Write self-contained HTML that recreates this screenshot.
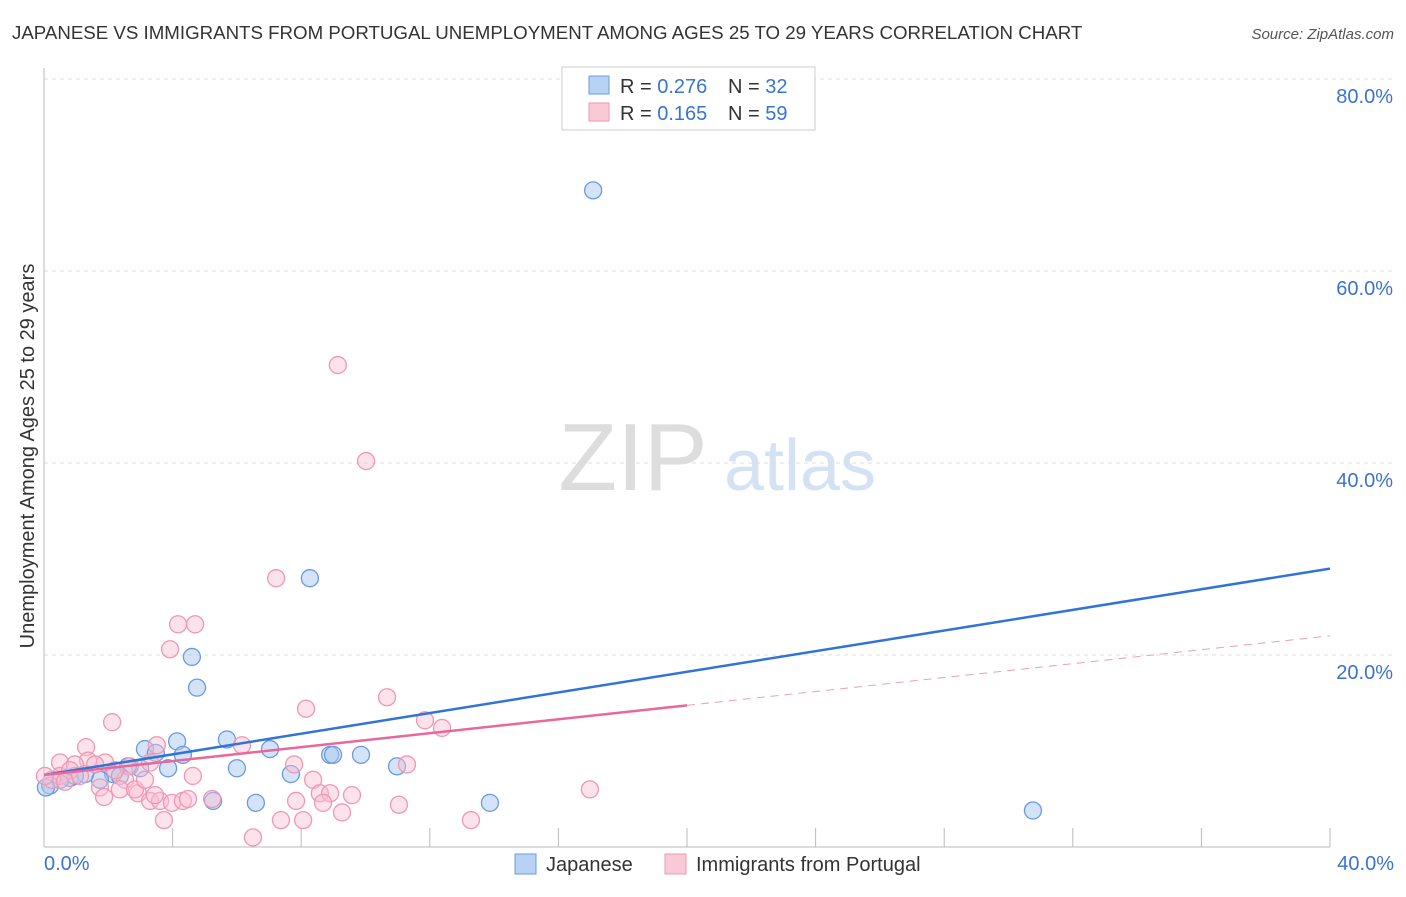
<!DOCTYPE html>
<html><head><meta charset="utf-8"><style>
body{margin:0;background:#fff;font-family:"Liberation Sans",sans-serif;}
svg text{font-family:"Liberation Sans",sans-serif;}
</style></head><body>
<svg id="chart" width="1406" height="892" xmlns="http://www.w3.org/2000/svg">
<text x="12" y="39" font-size="18.7" fill="#333">JAPANESE VS IMMIGRANTS FROM PORTUGAL UNEMPLOYMENT AMONG AGES 25 TO 29 YEARS CORRELATION CHART</text>
<text x="1394" y="39" font-size="15" fill="#555" text-anchor="end" font-style="italic">Source: ZipAtlas.com</text>
<g>
<text x="633" y="490" font-size="96" fill="#ddd" text-anchor="middle" font-family="Liberation Serif, serif">ZIP</text>
<text x="800" y="490" font-size="72" fill="#d4e2f4" text-anchor="middle">atlas</text>
</g>
<g id="grid"></g>
<g id="axes"></g>
<text transform="translate(34,456) rotate(-90)" font-size="20" fill="#333" text-anchor="middle">Unemployment Among Ages 25 to 29 years</text>
<g id="pts"></g>
<g id="lines"></g>
<g>
<rect x="562" y="67" width="253" height="63" fill="#fff" stroke="#ccc"/>
<rect x="589" y="76" width="20" height="18" fill="#b8d2f4" stroke="#6a9be0"/>
<rect x="589" y="103" width="20" height="18" fill="#f9c9d8" stroke="#ef98b3"/>
<text x="620" y="93" font-size="20" fill="#333">R = <tspan fill="#3a74d0">0.276</tspan></text>
<text x="728" y="93" font-size="20" fill="#333">N = <tspan fill="#3a74d0">32</tspan></text>
<text x="620" y="120" font-size="20" fill="#333">R = <tspan fill="#3a74d0">0.165</tspan></text>
<text x="728" y="120" font-size="20" fill="#333">N = <tspan fill="#3a74d0">59</tspan></text>
</g>
<g>
<rect x="515" y="854" width="21" height="20" fill="#b8d2f4" stroke="#6a9be0"/>
<text x="546" y="871" font-size="20" fill="#333">Japanese</text>
<rect x="665" y="854" width="21" height="20" fill="#f9c9d8" stroke="#ef98b3"/>
<text x="696" y="871" font-size="20" fill="#333">Immigrants from Portugal</text>
</g>
</svg>
<script>
const yTicks=[20,40,60,80];
const yTickLabels=["20.0%","40.0%","60.0%","80.0%"];
const xTickLabels=["0.0%","40.0%"];
const japX=[17.08,8.27,4.6,4.76,5.69,4.14,3.14,4.32,3.48,7.03,8.9,8.99,9.86,2.99,3.86,6.0,7.68,10.98,2.61,2.15,2.36,1.74,0.81,0.5,0.19,0.06,5.26,6.59,13.87,30.76,1.28,0.96];
const japY=[68.4,28.0,19.8,16.6,11.2,11.0,10.2,9.6,9.8,10.2,9.6,9.6,9.6,8.2,8.2,8.2,7.6,8.4,8.4,7.6,7.4,7.0,7.2,7.0,6.4,6.2,4.8,4.6,4.6,3.8,7.6,7.4];
const porX=[9.14,10.02,7.22,4.17,4.7,3.92,10.67,8.15,2.12,11.85,12.38,1.31,3.51,6.16,1.37,0.5,0.96,1.9,2.67,3.3,7.78,11.29,8.37,4.63,2.52,1.74,2.92,3.3,3.61,3.98,4.32,4.48,1.87,3.45,8.58,8.9,9.58,7.84,8.68,5.23,11.04,9.27,3.73,7.37,8.06,13.28,16.98,6.5,0.5,0.81,1.12,1.59,2.21,0.25,0.03,2.36,2.83,3.14,0.65];
const porY=[50.2,40.2,28.0,23.2,23.2,20.6,15.6,14.4,13.0,13.2,12.4,10.4,10.6,10.6,9.0,8.8,8.6,8.8,8.4,8.8,8.6,8.6,7.0,7.4,7.0,6.2,5.6,4.8,4.8,4.6,4.8,5.0,5.2,5.4,5.6,5.6,5.4,4.8,4.6,5.0,4.4,3.6,2.8,2.8,2.8,2.8,6.0,1.0,7.4,8.0,7.4,8.6,8.0,7.0,7.4,6.0,6.0,7.0,6.8];
const japLine=[7.5,29.0];
const porLine=[7.5,22.0];
const X=v=>44+v*32.15, Y=v=>847-v*9.6;
const NS="http://www.w3.org/2000/svg";
function mk(t,a,p){const e=document.createElementNS(NS,t);for(const k in a)e.setAttribute(k,a[k]);p.appendChild(e);return e;}
const grid=document.getElementById('grid'),axes=document.getElementById('axes'),pts=document.getElementById('pts'),lines=document.getElementById('lines');
yTicks.forEach((v,i)=>{
 const l=mk('line',{x1:44,x2:1394,y1:Y(v),y2:Y(v),stroke:'#ddd','stroke-dasharray':'4,4'},grid);
 
 
 const t=mk('text',{x:1393,y:Y(v)+24,'font-size':20,fill:'#3a74d0','text-anchor':'end'},axes);
 t.textContent=yTickLabels[i];
 
 
});
mk('line',{x1:44,x2:44,y1:68,y2:847,stroke:'#bbb'},axes);
mk('line',{x1:44,x2:1330,y1:847,y2:847,stroke:'#bbb'},axes);
for(let i=1;i<=10;i++){mk('line',{x1:X(i*4),x2:X(i*4),y1:828,y2:847,stroke:'#bbb'},axes);}
[[0,'start',44],[40,'end',1394]].forEach((d,i)=>{
 const t=mk('text',{x:d[2],y:870,'font-size':20,fill:'#3a74d0','text-anchor':d[1]},axes);
 t.textContent=xTickLabels[i];
 
 
});
japX.forEach((x,i)=>{
 const c=mk('circle',{cx:X(x),cy:Y(japY[i]),r:8.5,fill:'rgba(170,200,240,0.5)',stroke:'#6a9be0','stroke-width':1.3},pts);
 
 
});
porX.forEach((x,i)=>{
 const c=mk('circle',{cx:X(x),cy:Y(porY[i]),r:8.5,fill:'rgba(248,190,210,0.45)',stroke:'#ef98b3','stroke-width':1.3},pts);
 
 
});
const jl=mk('line',{x1:X(0),y1:Y(japLine[0]),x2:X(40),y2:Y(japLine[1]),stroke:'#2f74d6','stroke-width':2.5},lines);


const pm=porLine[0]+(porLine[1]-porLine[0])*0.5;
const pl=mk('line',{x1:X(0),y1:Y(porLine[0]),x2:X(20),y2:Y(pm),stroke:'#e8689a','stroke-width':2.5},lines);


const pd=mk('line',{x1:X(20),y1:Y(pm),x2:X(40),y2:Y(porLine[1]),stroke:'#e8a0b8','stroke-width':1,'stroke-dasharray':'8,6'},lines);


</script>
</body></html>
